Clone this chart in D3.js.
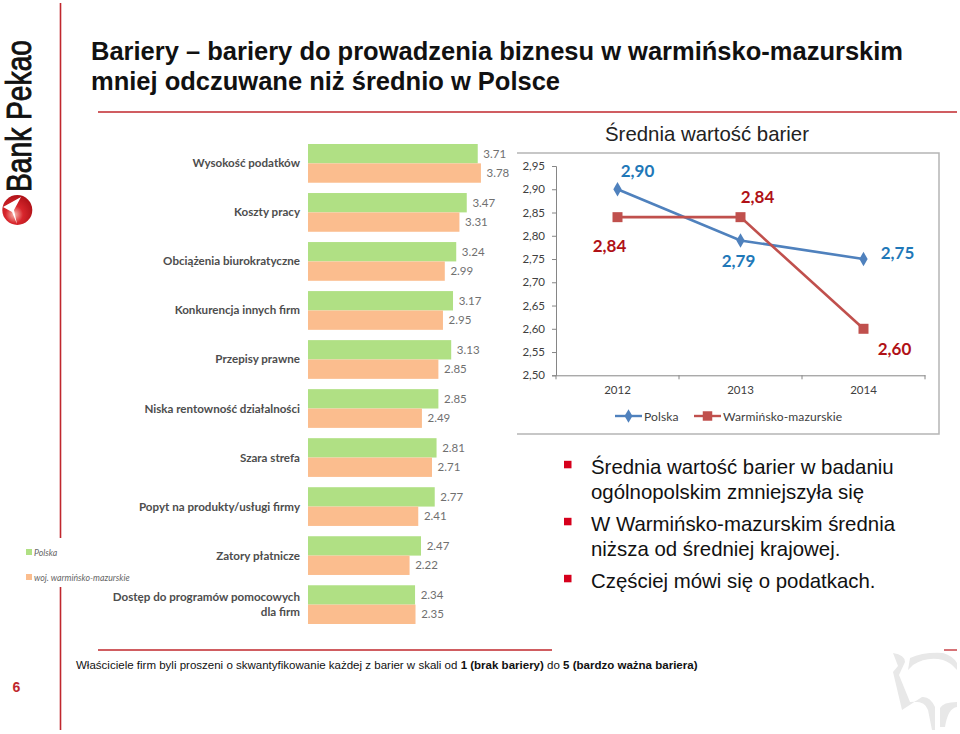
<!DOCTYPE html>
<html lang="pl">
<head>
<meta charset="utf-8">
<script src="https://cdn.jsdelivr.net/npm/d3@7"></script>
<style>
  html, body { margin: 0; padding: 0; background: #fff; }
  svg { display: block; }
  text { font-family: "Liberation Sans", Arial, sans-serif; }
  .cal { font-family: Lato, "Open Sans", sans-serif; }
</style>
</head>
<body>
<svg id="chart" width="960" height="734"></svg>
<script>
// bars on the left
var categories = [
  'Wysokość podatków', 'Koszty pracy', 'Obciążenia biurokratyczne',
  'Konkurencja innych firm', 'Przepisy prawne', 'Niska rentowność działalności',
  'Szara strefa', 'Popyt na produkty/usługi firmy', 'Zatory płatnicze',
  'Dostęp do programów pomocowych\ndla firm'
];
var polskaBars = [3.71, 3.47, 3.24, 3.17, 3.13, 2.85, 2.81, 2.77, 2.47, 2.34];
var wmBars = [3.78, 3.31, 2.99, 2.95, 2.85, 2.49, 2.71, 2.41, 2.22, 2.35];
var barLegend = ['Polska', 'woj. warmińsko-mazurskie'];

// line chart on the right
var years = ['2012', '2013', '2014'];
var polskaLine = [2.90, 2.79, 2.75];
var wmLine = [2.84, 2.84, 2.60];
var lineTicks = [2.50, 2.55, 2.60, 2.65, 2.70, 2.75, 2.80, 2.85, 2.90, 2.95];
var lineLegend = ['Polska', 'Warmińsko-mazurskie'];

var titleLines = ['Bariery – bariery do prowadzenia biznesu w warmińsko-mazurskim', 'mniej odczuwane niż średnio w Polsce'];
var bullets = [
  ['Średnia wartość barier w badaniu', 'ogólnopolskim zmniejszyła się'],
  ['W Warmińsko-mazurskim średnia', 'niższa od średniej krajowej.'],
  ['Częściej mówi się o podatkach.']
];

var RED = '#c0272d';
var svg = d3.select('#chart');
var commaFmt = d3.formatLocale({ decimal: ',', thousands: ' ', grouping: [3], currency: ['', ''] }).format('.2f');

// slide furniture
function rule(x1, y1, x2, y2, w) {
  svg.append('line').attr('x1', x1).attr('y1', y1).attr('x2', x2).attr('y2', y2)
    .attr('stroke', RED).attr('stroke-width', w);
}
rule(60.5, 3, 60.5, 538, 1.6);
rule(60.5, 587, 60.5, 730, 1.6);
rule(98, 112, 957, 112, 1.3);
rule(98, 650, 552, 650, 1.3);
rule(944, 650, 957, 650, 1.3);

// watermark in the corner
svg.append('path')
  .attr('d', 'M893 653 Q905 655 905 662 L899 675 L910 702 Q925 700 928 710 L932 730 L935 730 L935 707 Q930 696 922 697 L902 710 L893 672 L898 666 Z'
    + ' M908 670 L910 658 Q923 652 943 653 Q953 656 957 663 L957 670 Q950 662 943 660 Q927 656 913 665 Z'
    + ' M940 727 L940 708 Q943 702 957 702 L957 707 Q948 708 945 727 Z')
  .attr('fill', '#e8e8e8');

// logo
var grad = svg.append('defs').append('radialGradient').attr('id', 'logoGrad')
  .attr('cx', '40%').attr('cy', '65%').attr('r', '65%');
grad.append('stop').attr('offset', '0%').attr('stop-color', '#f7b9ae');
grad.append('stop').attr('offset', '45%').attr('stop-color', '#d8262c');
grad.append('stop').attr('offset', '100%').attr('stop-color', '#b01218');
svg.append('circle').attr('cx', 17.3).attr('cy', 210).attr('r', 15).attr('fill', 'url(#logoGrad)');
svg.append('path').attr('d', 'M3 207 L21 197 L14 210 L17 224 L12 212 Z').attr('fill', '#fff');
svg.append('text').attr('transform', 'translate(31,192) rotate(-90)')
  .attr('textLength', 152).attr('lengthAdjust', 'spacingAndGlyphs')
  .style('font-size', '35px').attr('fill', '#111').attr('stroke', '#111').attr('stroke-width', 0.9)
  .text('Bank Pekao');

// title
svg.selectAll('text.title').data(titleLines).enter().append('text').attr('class', 'title')
  .attr('x', 91).attr('y', function(d, i) { return 59.5 + i * 30; })
  .style('font-size', '25.5px').style('font-weight', 'bold').attr('fill', '#111')
  .text(function(d) { return d; });

// ---- bars ----
var barY = d3.scaleBand().domain(categories).range([144, 624]).paddingInner(0.21);
var barX = d3.scaleLinear().domain([0, 4]).range([308, 491]);
var barSeries = [
  { values: polskaBars, color: '#b0e084' },
  { values: wmBars, color: '#fbbd8e' }
];
var sub = d3.scaleBand().domain([0, 1]).range([0, barY.bandwidth()]);

barSeries.forEach(function(s, si) {
  var g = svg.append('g');
  g.selectAll('rect').data(s.values).enter().append('rect')
    .attr('x', barX(0))
    .attr('y', function(d, i) { return barY(categories[i]) + sub(si); })
    .attr('width', function(d) { return barX(d) - barX(0); })
    .attr('height', sub.bandwidth())
    .attr('fill', s.color);
  g.selectAll('text').data(s.values).enter().append('text').attr('class', 'cal')
    .attr('x', function(d) { return barX(d) + 17; })
    .attr('y', function(d, i) { return barY(categories[i]) + sub(si) + sub.bandwidth() / 2 + 4; })
    .attr('text-anchor', 'middle')
    .style('font-size', '11.5px').attr('fill', '#707070')
    .text(function(d) { return d.toFixed(2); });
});

var catLabels = svg.append('g').selectAll('text').data(categories).enter().append('text')
  .attr('class', 'cal')
  .attr('text-anchor', 'end')
  .style('font-size', '11.6px').style('font-weight', 'bold').attr('fill', '#4d4d4d')
  .attr('transform', function(d) { return 'translate(300,' + (barY(d) + barY.bandwidth() / 2) + ')'; });
catLabels.each(function(d) {
  var lines = d.split('\n');
  d3.select(this).selectAll('tspan').data(lines).enter().append('tspan')
    .attr('x', 0)
    .attr('y', function(l, i) { return 4 + (i - (lines.length - 1) / 2) * 14.5; })
    .text(function(l) { return l; });
});

// left legend
barLegend.forEach(function(name, i) {
  var y = d3.scalePoint().domain(barLegend).range([552, 577])(name);
  svg.append('rect').attr('x', 26).attr('y', y - 3).attr('width', 6).attr('height', 6).attr('fill', barSeries[i].color);
  svg.append('text').attr('class', 'cal').attr('x', 34).attr('y', y + 3.5)
    .style('font-size', '8.75px').style('font-style', 'italic').attr('fill', '#666').text(name);
});

// ---- line chart ----
svg.append('text').attr('x', 605).attr('y', 141).style('font-size', '20.4px').attr('fill', '#222')
  .text('Średnia wartość barier');

svg.append('path').attr('d', 'M517 153 H939 V434 H517').attr('fill', 'none')
  .attr('stroke', '#b5b5b5').attr('stroke-width', 1.5);

var lineX = d3.scaleBand().domain(years).range([556, 925]);
var lineY = d3.scaleLinear().domain([2.5, 2.95]).range([375.3, 166]);

var yAxis = svg.append('g').attr('transform', 'translate(556,0)')
  .call(d3.axisLeft(lineY).tickValues(lineTicks).tickFormat(commaFmt).tickSize(4).tickPadding(7));
var xAxis = svg.append('g').attr('transform', 'translate(0,375.3)')
  .call(d3.axisBottom(lineX).tickSize(0).tickPadding(11));
xAxis.selectAll('.boundary').data(d3.range(years.length + 1)).enter().append('line')
  .attr('class', 'boundary')
  .attr('x1', function(d) { return lineX.range()[0] + d * lineX.step(); })
  .attr('x2', function(d) { return lineX.range()[0] + d * lineX.step(); })
  .attr('y1', 0).attr('y2', 4).attr('stroke', '#868686');
[yAxis, xAxis].forEach(function(a) {
  a.select('.domain').attr('stroke', '#868686');
  a.selectAll('.tick line').attr('stroke', '#868686');
  a.selectAll('text').attr('class', 'cal').style('font-size', '11.5px').attr('fill', '#404040');
});

var lineSeries = [
  { values: polskaLine, color: '#4f81bd', text: '#1f78b8', symbol: d3.symbolDiamond, size: 60,
    offsets: [[20, -18], [-2, 21], [34, -6.5]] },
  { values: wmLine, color: '#c0504d', text: '#b01116', symbol: d3.symbolSquare, size: 100,
    offsets: [[-8, 29], [17, -20], [31, 20.5]] }
];
var lineGen = d3.line()
  .x(function(d, i) { return lineX(years[i]) + lineX.bandwidth() / 2; })
  .y(function(d) { return lineY(d); });

// red series sits on top, as in the original
lineSeries.forEach(function(s) {
  svg.append('path').attr('d', lineGen(s.values)).attr('fill', 'none')
    .attr('stroke', s.color).attr('stroke-width', 2.6);
  s.values.forEach(function(v, i) {
    var px = lineX(years[i]) + lineX.bandwidth() / 2, py = lineY(v);
    svg.append('path').attr('d', d3.symbol().type(s.symbol).size(s.size)())
      .attr('transform', 'translate(' + px + ',' + py + ')').attr('fill', s.color);
    svg.append('text').attr('class', 'cal')
      .attr('x', px + s.offsets[i][0]).attr('y', py + s.offsets[i][1] + 6)
      .attr('text-anchor', 'middle')
      .style('font-size', '17px').style('font-weight', 'bold').attr('fill', s.text)
      .text(commaFmt(v));
  });
});

// line legend
var legendX = [[615, 642, 644], [694, 721, 723]];
lineLegend.forEach(function(name, i) {
  var s = lineSeries[i], lx = legendX[i];
  svg.append('line').attr('x1', lx[0]).attr('x2', lx[1]).attr('y1', 416).attr('y2', 416)
    .attr('stroke', s.color).attr('stroke-width', 2.4);
  svg.append('path').attr('d', d3.symbol().type(s.symbol).size(s.size * 0.9)())
    .attr('transform', 'translate(' + (lx[0] + lx[1]) / 2 + ',416)').attr('fill', s.color);
  svg.append('text').attr('class', 'cal').attr('x', lx[2]).attr('y', 421)
    .style('font-size', '12.1px').style('letter-spacing', '0.1px').attr('fill', '#404040').text(name);
});

// bullet points
var ty = 474.3;
bullets.forEach(function(lines) {
  svg.append('rect').attr('x', 564).attr('y', ty - 13.5).attr('width', 7.5).attr('height', 7.5).attr('fill', '#d6001c');
  lines.forEach(function(l) {
    svg.append('text').attr('x', 591).attr('y', ty).style('font-size', '20.4px').attr('fill', '#111').text(l);
    ty += 24.4;
  });
  ty += 8.2;
});

// footer
svg.append('text').attr('x', 12.5).attr('y', 691.5).style('font-size', '14px').style('font-weight', 'bold')
  .attr('fill', RED).text('6');
var foot = svg.append('text').attr('x', 76).attr('y', 669).style('font-size', '11.53px').attr('fill', '#111');
foot.append('tspan').text('Właściciele firm byli proszeni o skwantyfikowanie każdej z barier w skali od ');
foot.append('tspan').style('font-weight', 'bold').text('1 (brak bariery)');
foot.append('tspan').text(' do ');
foot.append('tspan').style('font-weight', 'bold').text('5 (bardzo ważna bariera)');
</script>
</body>
</html>
